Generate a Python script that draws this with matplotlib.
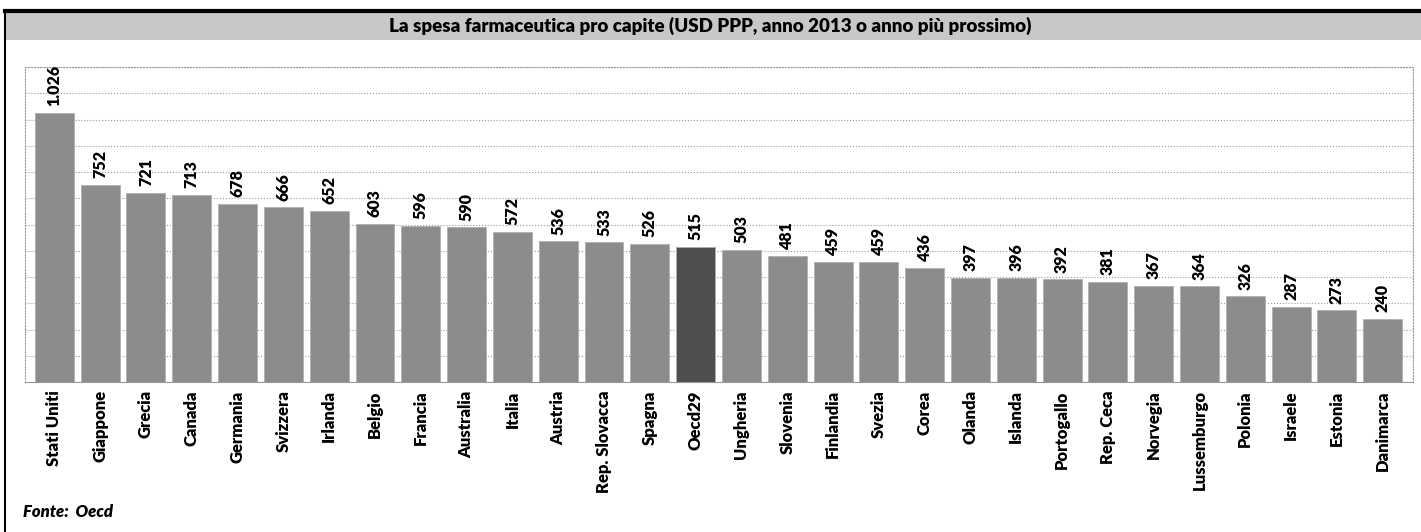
import matplotlib.pyplot as plt
from matplotlib.patches import Rectangle
from matplotlib.lines import Line2D

countries = ["Stati Uniti", "Giappone", "Grecia", "Canada", "Germania", "Svizzera",
             "Irlanda", "Belgio", "Francia", "Australia", "Italia", "Austria",
             "Rep. Slovacca", "Spagna", "Oecd29", "Ungheria", "Slovenia", "Finlandia",
             "Svezia", "Corea", "Olanda", "Islanda", "Portogallo", "Rep. Ceca",
             "Norvegia", "Lussemburgo", "Polonia", "Israele", "Estonia", "Danimarca"]
spesa = [1026, 752, 721, 713, 678, 666, 652, 603, 596, 590, 572, 536, 533, 526, 515,
         503, 481, 459, 459, 436, 397, 396, 392, 381, 367, 364, 326, 287, 273, 240]
highlight = "Oecd29"

title = "La spesa farmaceutica pro capite (USD PPP, anno 2013 o anno più prossimo)"
source = "Fonte:  Oecd"

plt.rcParams["font.family"] = ["Lato", "DejaVu Sans"]

W, H = 1421, 532
fig = plt.figure(figsize=(W / 100, H / 100), dpi=100)

# title band and frame lines
fig.patches.append(Rectangle((5 / W, 1 - 40 / H), 1 - 5 / W, 29 / H,
                             transform=fig.transFigure, facecolor="#c8c8c8",
                             edgecolor="none", zorder=0))
fig.lines.append(Line2D([5 / W, 1], [1 - 10.5 / H, 1 - 10.5 / H],
                        transform=fig.transFigure, color="black", lw=3))
fig.lines.append(Line2D([5 / W, 5 / W], [0, 1 - 10 / H],
                        transform=fig.transFigure, color="black", lw=1.5))
fig.text(710 / W, 1 - 26 / H, title, ha="center", va="center",
         fontsize=13.5, fontweight="heavy")

ax = fig.add_axes([25 / W, 1 - 382 / H, (1413 - 25) / W, (382 - 67) / H])
colors = ["#4f4f4f" if c == highlight else "#8c8c8c" for c in countries]
x = range(len(countries))
ax.bar(x, spesa, width=0.85, color=colors, edgecolor="#b0b0b0", linewidth=0.6, zorder=2)

for i, v in enumerate(spesa):
    lbl = f"{v:,}".replace(",", ".")
    ax.text(i, v + 25, lbl, rotation=90, ha="center", va="bottom",
            fontsize=11.5, fontweight="heavy")

ax.set_ylim(0, 1200)
ax.set_xlim(-0.64, len(countries) - 0.34)
ax.set_yticks(range(0, 1201, 100))
ax.set_yticklabels([])
ax.tick_params(axis="y", length=0)
ax.tick_params(axis="x", length=0, pad=6)
ax.set_xticks(list(x))
ax.set_xticklabels(countries, rotation=90, fontsize=12, fontweight="heavy")
ax.grid(axis="y", linestyle=":", color="#999999", linewidth=0.8, zorder=0)
for side in ["left", "right", "top"]:
    ax.spines[side].set_linestyle(":")
    ax.spines[side].set_color("#999999")
ax.spines["bottom"].set_color("#999999")

fig.text(23 / W, 1 - 512 / H, source, ha="left", va="center",
         fontsize=12, fontweight="heavy", fontstyle="italic")

fig.savefig("out.png", dpi=100)
